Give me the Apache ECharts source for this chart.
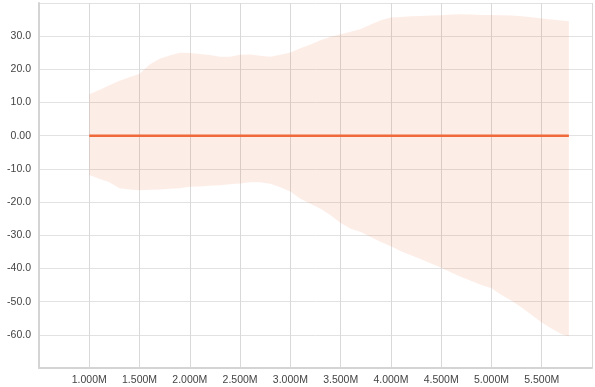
<!DOCTYPE html>
<html>
<head>
<meta charset="utf-8">
<script src="https://cdn.jsdelivr.net/npm/echarts@6/dist/echarts.min.js"></script>
<style>
  html, body { margin: 0; padding: 0; background: #fff; }
  #chart { width: 595px; height: 387px; }
</style>
</head>
<body>
<div id="chart"></div>
<script>
// x positions (in millions) of the sampled points
const xMillions = [1.0, 1.1, 1.2, 1.3, 1.4, 1.5, 1.6, 1.7, 1.8, 1.9,
  2.0, 2.1, 2.2, 2.3, 2.4, 2.5, 2.6, 2.7, 2.8, 2.9,
  3.0, 3.1, 3.2, 3.3, 3.4, 3.5, 3.6, 3.7, 3.8, 3.9,
  4.0, 4.1, 4.2, 4.3, 4.4, 4.5, 4.6, 4.7, 4.8, 4.9,
  5.0, 5.1, 5.2, 5.3, 5.4, 5.5, 5.6, 5.7, 5.77];

// upper edge of the band
const upperBound = [12.5, 13.8, 15.2, 16.6, 17.6, 18.7, 21.5, 23.2, 24.2, 25.0,
  24.9, 24.6, 24.3, 23.8, 23.8, 24.4, 24.5, 24.1, 23.8, 24.4,
  25.1, 26.4, 27.5, 28.8, 29.8, 30.6, 31.3, 32.2, 33.5, 34.8,
  35.6, 35.8, 36.0, 36.1, 36.2, 36.3, 36.5, 36.6, 36.5, 36.4,
  36.4, 36.3, 36.2, 36.0, 35.7, 35.3, 35.0, 34.7, 34.5];

// lower edge of the band
const lowerBound = [-11.8, -13.0, -14.0, -15.8, -16.2, -16.4, -16.3, -16.2, -16.0, -15.8,
  -15.4, -15.3, -15.1, -14.9, -14.6, -14.4, -14.0, -14.0, -14.5, -15.5,
  -16.8, -19.0, -20.5, -22.0, -24.0, -26.3, -28.0, -29.0, -30.5, -32.0,
  -33.3, -34.8, -36.0, -37.2, -38.5, -39.8, -41.2, -42.6, -43.8, -45.0,
  -46.0, -48.0, -49.7, -51.8, -54.0, -56.3, -58.2, -59.8, -60.5];

// centre line
const centerLine = xMillions.map(() => 0);

// tick labels
const xTickLabels = ['1.000M', '1.500M', '2.000M', '2.500M', '3.000M', '3.500M', '4.000M', '4.500M', '5.000M', '5.500M'];
const yTickLabels = ['30.0', '20.0', '10.0', '0.00', '-10.0', '-20.0', '-30.0', '-40.0', '-50.0', '-60.0'];

const xs = xMillions.map(v => v * 1e6);
const lineData = xs.map((x, i) => [x, centerLine[i]]);
// one row per sample: x, lower, upper
const bandData = xs.map((x, i) => [x, lowerBound[i], upperBound[i]]);

const xLabelFor = v => {
  const s = (v / 1e6).toFixed(3) + 'M';
  return xTickLabels.includes(s) ? s : '';
};
const yLabelFor = v => {
  const s = v === 0 ? '0.00' : v.toFixed(1);
  return yTickLabels.includes(s) ? s : '';
};

// draws the whole band as one translucent polygon, once, from the first data item
function renderBand(params, api) {
  if (params.dataIndex !== 0) return null;
  const top = bandData.map(d => api.coord([d[0], d[2]]));
  const bottom = bandData.map(d => api.coord([d[0], d[1]])).reverse();
  return {
    type: 'polygon',
    shape: { points: top.concat(bottom) },
    style: { fill: 'rgba(240, 105, 58, 0.12)', stroke: null },
    silent: true
  };
}

const chart = echarts.init(document.getElementById('chart'), null, { renderer: 'canvas' });
chart.setOption({
  animation: false,
  grid: { left: 39, right: 1, top: 3, bottom: 19, containLabel: false },
  xAxis: {
    type: 'value',
    min: 500000,
    max: 6000000,
    interval: 500000,
    axisLine: { show: true, onZero: false, lineStyle: { color: '#d4d4d4', width: 2 } },
    axisTick: { show: false },
    axisLabel: {
      formatter: xLabelFor,
      color: '#444',
      fontFamily: 'Liberation Sans, Arial, sans-serif',
      fontSize: 10.5,
      margin: 7,
      showMinLabel: true,
      showMaxLabel: true
    },
    splitLine: { show: true, lineStyle: { color: '#d9d9d9', width: 1 } }
  },
  yAxis: {
    type: 'value',
    min: -70,
    max: 40,
    interval: 10,
    axisLine: { show: true, onZero: false, lineStyle: { color: '#d4d4d4', width: 2 } },
    axisTick: { show: false },
    axisLabel: {
      formatter: yLabelFor,
      color: '#444',
      fontFamily: 'Liberation Sans, Arial, sans-serif',
      fontSize: 10.5,
      margin: 8
    },
    splitLine: { show: true, lineStyle: { color: '#e2e2e2', width: 1 } }
  },
  series: [
    {
      name: 'band',
      type: 'custom',
      renderItem: renderBand,
      data: bandData,
      encode: { x: 0, y: [1, 2] },
      silent: true,
      z: 1
    },
    {
      name: 'value',
      type: 'line',
      data: lineData,
      symbol: 'none',
      lineStyle: { color: '#f0693a', width: 2.5 },
      z: 5
    }
  ]
});
</script>
</body>
</html>
